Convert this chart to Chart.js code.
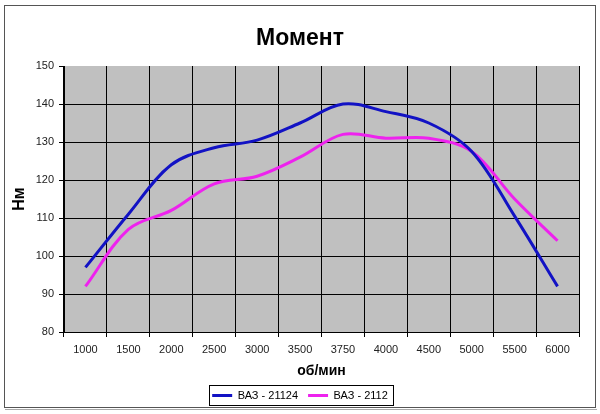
<!DOCTYPE html>
<html>
<head>
<meta charset="utf-8">
<script src="https://cdn.jsdelivr.net/npm/chart.js@4/dist/chart.umd.min.js"></script>
<style>
html,body{margin:0;padding:0;background:#fff;}
#wrap{width:600px;height:414px;position:relative;}
</style>
</head>
<body>
<div id="wrap"><canvas id="c" width="600" height="414"></canvas></div>
<script>
const categories = ['1000','1500','2000','2500','3000','3500','3750','4000','4500','5000','5500','6000'];
const vaz21124 = [97, 111, 124, 128.5, 130.5, 135, 140, 138, 135, 127.5, 110.5, 92];
const vaz2112 = [92, 107, 112, 119, 121, 126, 132, 131, 131, 127.5, 115, 104];
const seriesNames = ['ВАЗ - 21124', 'ВАЗ - 2112'];
const yTicks = [80, 90, 100, 110, 120, 130, 140, 150];

const framePlugin = {
  id: 'frame',
  beforeDraw(chart) {
    const ctx = chart.ctx, a = chart.chartArea;
    ctx.save();
    ctx.fillStyle = '#fff';
    ctx.fillRect(0, 0, chart.width, chart.height);
    ctx.strokeStyle = '#555';
    ctx.lineWidth = 1;
    ctx.strokeRect(4.5, 5.5, 591, 402);
    ctx.strokeStyle = '#aaa';
    ctx.beginPath(); ctx.moveTo(5, 409.5); ctx.lineTo(597, 409.5); ctx.stroke();
    ctx.fillStyle = '#C0C0C0';
    ctx.fillRect(a.left, a.top, a.right - a.left, a.bottom - a.top);
    ctx.restore();
  },
  afterDraw(chart) {
    const lg = chart.legend;
    if (!lg || !lg.legendHitBoxes || !lg.legendHitBoxes.length) return;
    const hb = lg.legendHitBoxes;
    let l = Infinity, r = -Infinity, t = Infinity, b = -Infinity;
    hb.forEach(h => { l = Math.min(l, h.left); r = Math.max(r, h.left + h.width); t = Math.min(t, h.top); b = Math.max(b, h.top + h.height); });
    const ctx = chart.ctx;
    ctx.save();
    ctx.strokeStyle = '#000';
    ctx.lineWidth = 1;
    ctx.strokeRect(Math.round(l - 3) + 0.5, Math.round(t - 5) + 0.5, Math.round(r - l + 8), Math.round(b - t + 9));
    ctx.restore();
  }
};

new Chart(document.getElementById('c'), {
  type: 'line',
  data: {
    labels: categories,
    datasets: [
      { label: seriesNames[0], data: vaz21124, borderColor: '#1212c4', backgroundColor: '#1212c4', borderWidth: 3, pointRadius: 0, tension: 0.35, fill: false },
      { label: seriesNames[1], data: vaz2112, borderColor: '#ee22ee', backgroundColor: '#ee22ee', borderWidth: 3, pointRadius: 0, tension: 0.35, fill: false }
    ]
  },
  plugins: [framePlugin],
  options: {
    responsive: false,
    animation: false,
    events: [],
    layout: { padding: { left: 0, right: 0, top: 0, bottom: 3 } },
    plugins: {
      tooltip: { enabled: false },
      title: {
        display: true,
        text: 'Момент',
        color: '#000',
        font: { family: 'Arial, "Liberation Sans", sans-serif', size: 23, weight: 'bold' },
        padding: { top: 25, bottom: 13.4 }
      },
      legend: {
        display: true,
        position: 'bottom',
        labels: {
          usePointStyle: true,
          pointStyle: 'line',
          pointStyleWidth: 20,
          color: '#000',
          font: { family: 'Arial, "Liberation Sans", sans-serif', size: 11 },
          padding: 10
        }
      }
    },
    scales: {
      x: {
        type: 'category',
        offset: true,
        afterFit(s) { s.height = 48; },
        border: { color: '#000', width: 1 },
        grid: {
          offset: true,
          drawTicks: true,
          tickLength: 5,
          tickColor: '#000',
          color: (c) => (c.index === categories.length ? 'rgba(0,0,0,0)' : '#000'),
          lineWidth: 1
        },
        ticks: {
          color: '#222',
          font: { family: 'Arial, "Liberation Sans", sans-serif', size: 11 },
          padding: 6,
          maxRotation: 0,
          autoSkip: false
        },
        title: {
          display: true,
          text: 'об/мин',
          color: '#000',
          font: { family: 'Arial, "Liberation Sans", sans-serif', size: 14, weight: 'bold' },
          padding: { top: 4, bottom: 0 }
        }
      },
      y: {
        min: 80,
        max: 150,
        afterFit(s) { s.width = 64; },
        afterBuildTicks(s) { s.ticks = yTicks.map(v => ({ value: v })); },
        border: { color: '#000', width: 1 },
        grid: {
          drawTicks: true,
          tickLength: 5,
          tickColor: '#000',
          color: (c) => (c.tick && c.tick.value === 150 ? 'rgba(0,0,0,0)' : '#000'),
          lineWidth: 1
        },
        ticks: {
          color: '#222',
          font: { family: 'Arial, "Liberation Sans", sans-serif', size: 11 },
          padding: 5
        },
        title: {
          display: true,
          text: 'Нм',
          color: '#000',
          font: { family: 'Arial, "Liberation Sans", sans-serif', size: 16, weight: 'bold' },
          padding: { top: 10, bottom: 0 }
        }
      },
      yRight: {
        position: 'right',
        display: true,
        min: 80,
        max: 150,
        afterFit(s) { s.width = 21; },
        border: { display: false },
        grid: { display: false, drawTicks: false },
        ticks: { display: false }
      }
    }
  }
});
</script>
</body>
</html>
